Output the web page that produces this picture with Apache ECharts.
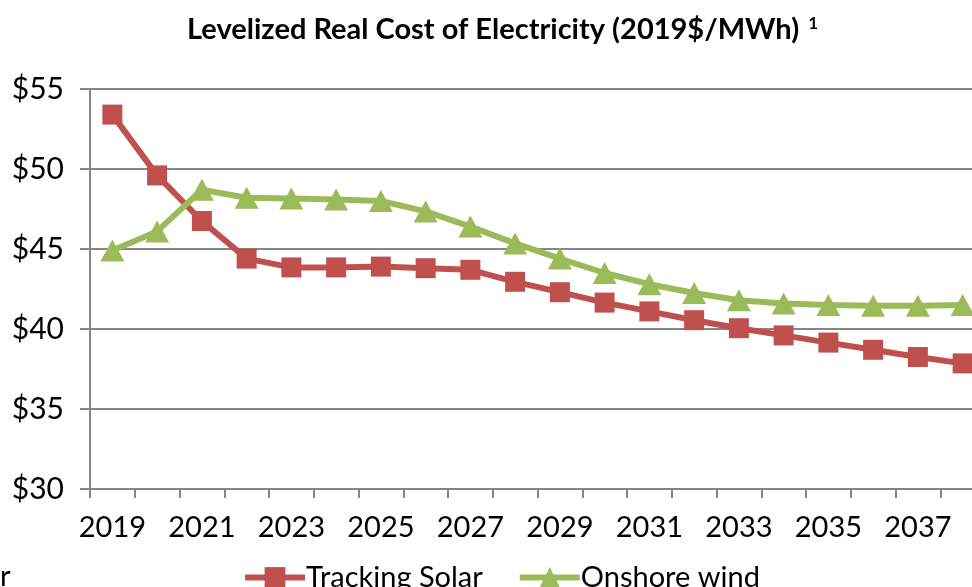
<!DOCTYPE html>
<html>
<head>
<meta charset="utf-8">
<script src="https://cdn.jsdelivr.net/npm/echarts@6/dist/echarts.min.js"></script>
<style>
  html, body { margin: 0; padding: 0; background: #fff; overflow: hidden; }
  #chart { width: 1000px; height: 587px; }
</style>
</head>
<body>
<div id="chart"></div>
<script>
const years = [
  '2019', '2020', '2021', '2022', '2023', '2024', '2025', '2026', '2027', '2028',
  '2029', '2030', '2031', '2032', '2033', '2034', '2035', '2036', '2037', '2038'
]
const trackingSolar = [
  53.4, 49.6, 46.75, 44.4, 43.85, 43.85, 43.9, 43.8, 43.7, 42.95,
  42.3, 41.65, 41.1, 40.55, 40.05, 39.6, 39.15, 38.7, 38.25, 37.85
]
const onshoreWind = [
  44.9, 46.1, 48.7, 48.2, 48.15, 48.1, 48.0, 47.35, 46.4, 45.35,
  44.4, 43.5, 42.8, 42.25, 41.8, 41.6, 41.5, 41.45, 41.45, 41.5
]
const yTicks = [30, 35, 40, 45, 50, 55]

const font = 'Lato, "Open Sans", sans-serif'
const red = '#C0504D'
const green = '#9BBB59'
const grey = '#868686'

const chart = echarts.init(document.getElementById('chart'))
chart.setOption({
  animation: false,
  title: {
    text: '{t|Levelized Real Cost of Electricity (2019$/MWh)} {s|1}',
    left: 182,
    top: 10,
    textStyle: {
      rich: {
        t: { fontFamily: font, fontWeight: 'bold', fontSize: 29, color: '#000' },
        s: { fontFamily: font, fontWeight: 'bold', fontSize: 17, color: '#000', verticalAlign: 'top', padding: [0, 0, 12, 4] }
      }
    }
  },
  legend: {
    bottom: -10,
    left: 237,
    itemWidth: 60,
    itemHeight: 26,
    itemGap: 34,
    textStyle: { fontFamily: font, fontSize: 29, color: '#000', padding: [0, 0, 0, -4] },
    data: [
      { name: 'Tracking Solar', lineStyle: { width: 6 } },
      { name: 'Onshore wind', lineStyle: { width: 6 } }
    ]
  },
  graphic: [{
    type: 'text',
    left: 0,
    top: 562,
    style: { text: 'r', font: '29px ' + font, fill: '#000' }
  }],
  grid: { left: 90, top: 89, width: 895, height: 400 },
  xAxis: {
    type: 'category',
    data: years,
    boundaryGap: true,
    axisLine: { lineStyle: { color: grey, width: 2 } },
    axisTick: { show: true, interval: 0, length: 9, lineStyle: { color: grey, width: 2 } },
    axisLabel: { interval: 1, margin: 24, fontFamily: font, fontSize: 29, color: '#000' }
  },
  yAxis: {
    type: 'value',
    min: yTicks[0],
    max: yTicks[yTicks.length - 1],
    interval: 5,
    axisLine: { show: true, lineStyle: { color: grey, width: 2 } },
    axisTick: { show: true, length: 10, lineStyle: { color: grey, width: 2 } },
    splitLine: { lineStyle: { color: grey, width: 2 } },
    axisLabel: { margin: 26, fontFamily: font, fontSize: 30, color: '#000', formatter: v => '$' + v }
  },
  series: [{
    name: 'Tracking Solar',
    type: 'line',
    data: trackingSolar,
    symbol: 'rect',
    symbolSize: 20,
    clip: false,
    lineStyle: { color: red, width: 6 },
    itemStyle: { color: red }
  }, {
    name: 'Onshore wind',
    type: 'line',
    data: onshoreWind,
    symbol: 'triangle',
    symbolSize: [24, 22],
    clip: false,
    lineStyle: { color: green, width: 6 },
    itemStyle: { color: green }
  }]
})
</script>
</body>
</html>
